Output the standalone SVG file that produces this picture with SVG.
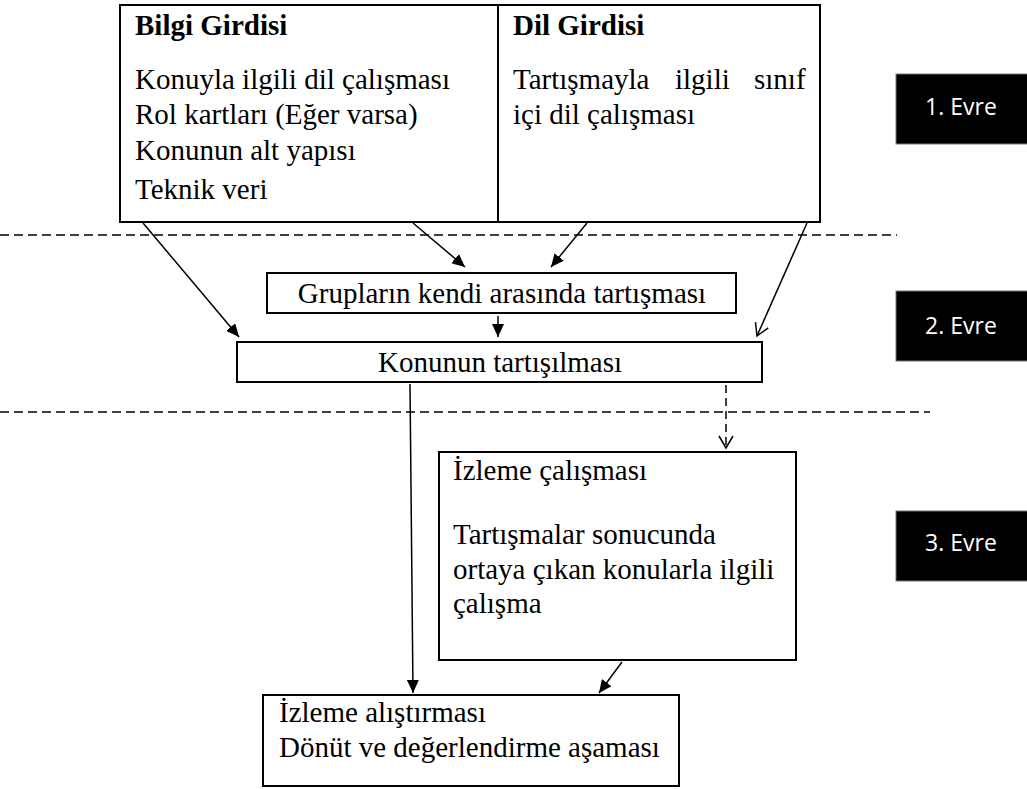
<svg xmlns="http://www.w3.org/2000/svg" width="1027" height="789" viewBox="0 0 1027 789">
<style>
.box{fill:#fff;stroke:#000;stroke-width:2}
.t{font-family:"Liberation Serif","Times New Roman",serif;font-size:29px;fill:#000}
.b{font-weight:bold}
.c{text-anchor:middle}
.dash{stroke:#000;stroke-width:1.3;stroke-dasharray:9 5;fill:none}
.ln{stroke:#000;stroke-width:1.5;fill:none}
.ev{fill:#000;stroke:#777;stroke-width:1}
.evt{font-family:"Open Sans","Liberation Sans",sans-serif;font-size:23px;fill:#fff;text-anchor:middle}
</style>
<defs>
<marker id="ah" markerUnits="userSpaceOnUse" markerWidth="14" markerHeight="12" refX="13" refY="6" orient="auto"><path d="M0,0 L13,6 L0,12 z" fill="#000"/></marker>
<marker id="oh" markerUnits="userSpaceOnUse" markerWidth="16" markerHeight="16" refX="13" refY="8" orient="auto"><path d="M1,1 L13,8 L1,15" fill="none" stroke="#000" stroke-width="1.5"/></marker>
</defs>
<rect width="1027" height="789" fill="#fff"/>
<g id="phase-lines">
<line class="dash" x1="0" y1="235" x2="897" y2="235"/>
<line class="dash" x1="0" y1="412" x2="930" y2="412"/>
</g>
<g id="input-box">
<rect class="box" x="120" y="5" width="700" height="217"/>
<line x1="498" y1="5" x2="498" y2="222" stroke="#000" stroke-width="2"/>
<text class="t b" x="135" y="35">Bilgi Girdisi</text>
<text class="t" x="135" y="89">Konuyla ilgili dil çalışması</text>
<text class="t" x="135" y="124">Rol kartları (Eğer varsa)</text>
<text class="t" x="135" y="160">Konunun alt yapısı</text>
<text class="t" x="135" y="199">Teknik veri</text>
<text class="t b" x="513" y="35">Dil Girdisi</text>
<text class="t" y="89"><tspan x="513">Tartışmayla</tspan><tspan x="675">ilgili</tspan><tspan x="754">sınıf</tspan></text>
<text class="t" x="513" y="124">içi dil çalışması</text>
</g>
<g id="group-discussion">
<rect class="box" x="267" y="273" width="469" height="40"/>
<text class="t c" x="502" y="303">Grupların kendi arasında tartışması</text>
</g>
<g id="topic-discussion">
<rect class="box" x="237" y="342" width="525" height="40"/>
<text class="t c" x="500" y="372">Konunun tartışılması</text>
</g>
<g id="follow-up-work">
<rect class="box" x="439" y="452" width="357" height="208"/>
<text class="t" x="453" y="480">İzleme çalışması</text>
<text class="t" x="453" y="544">Tartışmalar sonucunda</text>
<text class="t" x="453" y="579">ortaya çıkan konularla ilgili</text>
<text class="t" x="453" y="613">çalışma</text>
</g>
<g id="follow-up-exercise">
<rect class="box" x="263" y="695" width="416" height="91"/>
<text class="t" x="279" y="722">İzleme alıştırması</text>
<text class="t" x="279" y="757">Dönüt ve değerlendirme aşaması</text>
</g>
<g id="phase-1"><rect class="ev" x="896" y="74" width="132" height="70"/><text class="evt" x="961" y="115">1. Evre</text></g>
<g id="phase-2"><rect class="ev" x="896" y="291" width="132" height="70"/><text class="evt" x="961" y="334">2. Evre</text></g>
<g id="phase-3"><rect class="ev" x="896" y="511" width="132" height="70"/><text class="evt" x="961" y="551">3. Evre</text></g>
<g id="connectors">
<line class="ln" x1="143" y1="223" x2="239" y2="337" marker-end="url(#ah)"/>
<line class="ln" x1="413" y1="223" x2="465" y2="267" marker-end="url(#ah)"/>
<line class="ln" x1="587" y1="223" x2="551" y2="267" marker-end="url(#ah)"/>
<line class="ln" x1="498" y1="316" x2="498" y2="337" marker-end="url(#ah)"/>
<line class="ln" x1="807" y1="223" x2="757" y2="336" marker-end="url(#oh)"/>
<line class="ln" x1="726" y1="385" x2="726" y2="448" stroke-dasharray="8 5" marker-end="url(#oh)"/>
<line class="ln" x1="410" y1="384" x2="413" y2="693" marker-end="url(#ah)"/>
<line class="ln" x1="622" y1="662" x2="599" y2="693" marker-end="url(#ah)"/>
</g>
</svg>
